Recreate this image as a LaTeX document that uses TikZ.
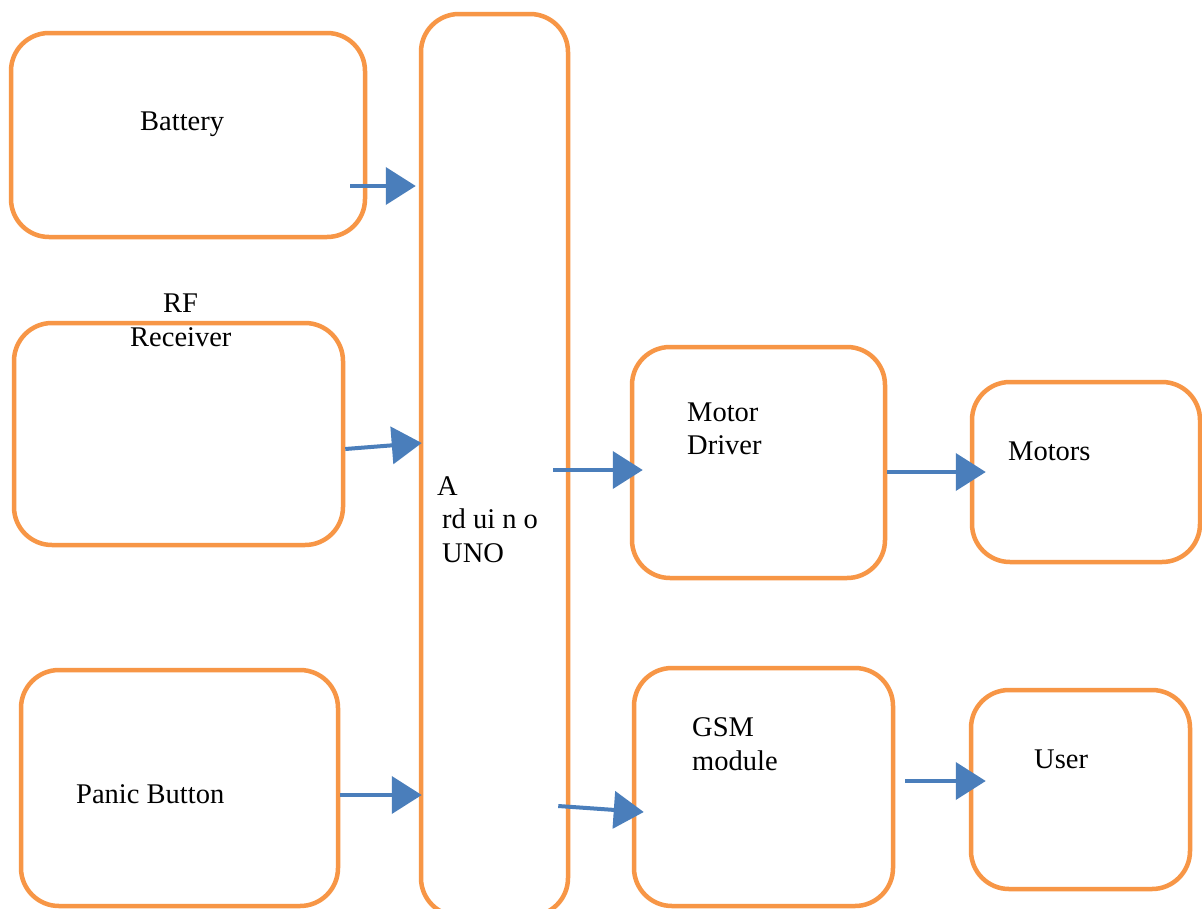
\documentclass[tikz,border=0pt]{standalone}
\usepackage{fontspec}
\setmainfont{Liberation Serif}
\usetikzlibrary{arrows.meta,calc}
\definecolor{boxorange}{HTML}{F79646}
\definecolor{arrblue}{HTML}{4A7EBB}
\tikzset{
  blockbox/.style={draw=boxorange, line width=4.5pt, rounded corners=38pt, inner sep=0pt, fill=none},
  arr/.style={draw=arrblue, line width=4pt, -{Triangle[length=30pt,width=37pt]}},
  lbl/.style={anchor=base west, inner sep=0pt, font=\fontsize{28.5}{34}\selectfont}
}
\begin{document}
\begin{tikzpicture}[x=1pt,y=-1pt]
\useasboundingbox (0,0) rectangle (1202,908);
\clip (0,0) rectangle (1202,908);
\fill[white] (0,0) rectangle (1202,908);
% boxes
\node[blockbox, minimum width=354pt, minimum height=204pt] (bat) at (188,135) {};
\node[blockbox, minimum width=147pt, minimum height=902pt] (ard) at (494.5,465) {};
\node[blockbox, minimum width=329pt, minimum height=222pt] (rf) at (178.5,434) {};
\node[blockbox, minimum width=317pt, minimum height=236pt] (pb) at (179.5,788) {};
\node[blockbox, minimum width=253pt, minimum height=231pt] (md) at (758.5,462.5) {};
\node[blockbox, minimum width=228pt, minimum height=180pt] (mot) at (1086,472) {};
\node[blockbox, minimum width=259pt, minimum height=238pt] (gsm) at (763.5,787) {};
\node[blockbox, minimum width=219pt, minimum height=199pt] (user) at (1080.5,789.5) {};
% labels
\node[lbl] (tbat) at (140,130) {Battery};
\node[lbl] (trf1) at (163,312) {RF};
\node[lbl] (trf2) at (130,346) {Receiver};
\node[lbl] (tpb) at (76,803) {Panic Button};
\node[lbl] (tard1) at (437,495) {A};
\node[lbl] (tard2) at (442,528) {rd ui n o};
\node[lbl] (tard3) at (442,562) {UNO};
\node[lbl] (tmd1) at (687,421) {Motor};
\node[lbl] (tmd2) at (687,454) {Driver};
\node[lbl] (tmot) at (1008,460) {Motors};
\node[lbl] (tgsm1) at (692,736) {GSM};
\node[lbl] (tgsm2) at (692,770) {module};
\node[lbl] (tuser) at (1034,768) {User};
% arrows
\draw[arr] ($(bat.east)+(-17,51)$) -- ($(ard.west |- bat.east)+(-3,51)$);
\draw[arr] ($(rf.east)+(0,15)$) -- ($(ard.west |- rf.east)+(3,9)$);
\draw[arr] ($(pb.east)+(0,7)$) -- ($(ard.west |- pb.east)+(3,7)$);
\draw[arr] ($(ard.east |- md.west)+(-17,7.5)$) -- ($(md.west)+(13,7.5)$);
\draw[arr] ($(md.east)+(0,9.5)$) -- ($(mot.west)+(16,0)$);
\draw[arr] ($(ard.east |- gsm.west)+(-12,19)$) -- ($(gsm.west)+(12,25)$);
\draw[arr] ($(gsm.east)+(10,-6)$) -- ($(user.west)+(17,-8.5)$);
\end{tikzpicture}
\end{document}
